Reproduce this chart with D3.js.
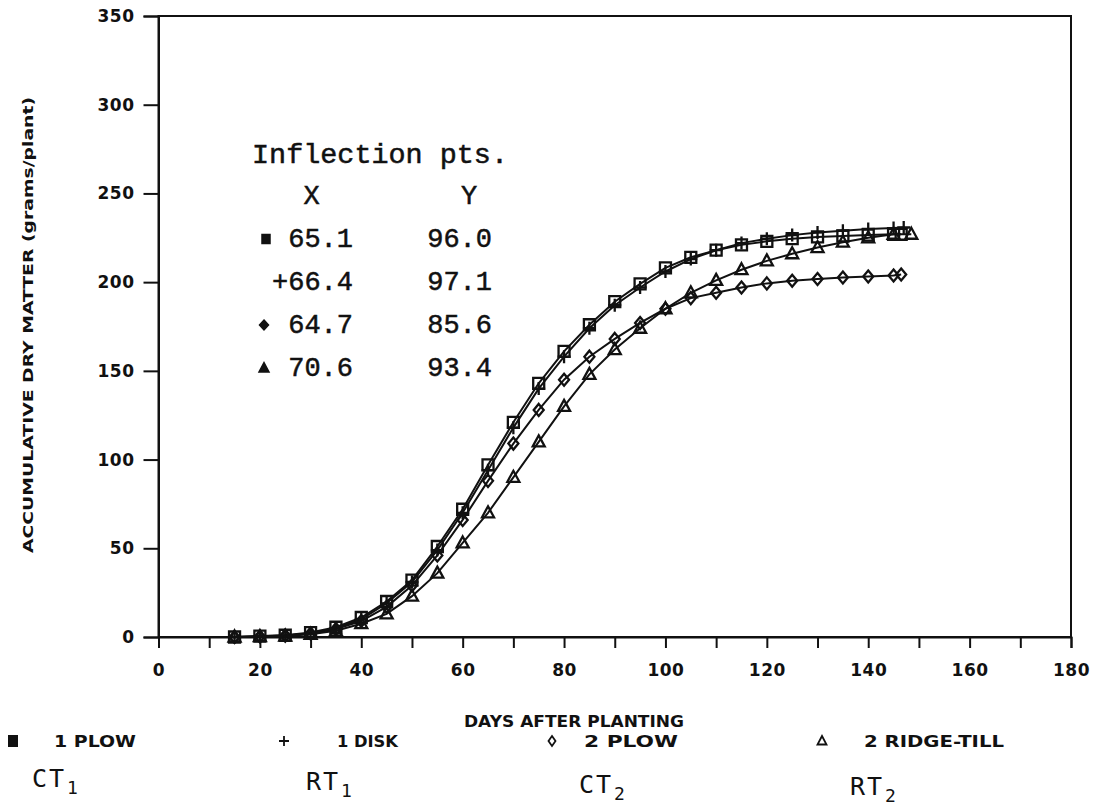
<!DOCTYPE html>
<html><head><meta charset="utf-8">
<script src="https://cdn.jsdelivr.net/npm/d3@7/dist/d3.min.js"></script>
<style>body{margin:0;background:#fff}</style>
</head><body>
<svg id="c" width="1096" height="807"></svg>
<script>
// ---------- data ----------
const days = [15,20,25,30,35,40,45,50,55,60,65,70,75,80,85,90,95,100,105,110,115,120,125,130,135,140,145];
const plow1  = [0,0.5,1,2.5,5.5,11,20,32,51,72,97,121,143,161,176,189,199,208,214,218,221,223,224.5,225.5,226,226.5,227];
const disk1  = [0,0.4,0.8,2,5,10,19,31,49,70,94,118,140,158,174,187,197,206,213,218,222,224.5,226.5,228,229,230,230.5];
const plow2  = [0,0.3,0.8,2,4.5,9,17,29,46,66,88,109,128,145,158,168,177,185,191,194,197,199.3,200.8,201.8,202.6,203.2,203.7];
const ridge2 = [0,0.2,0.5,1.5,3.5,7.5,13,23,36,53,70,90,110,130,148,162,174,185,194,201,207,212,216,219.5,222.5,225,227];
const endDays   = [146.5,147,146.5,148.5];
const endValues = [227,230.8,204.3,227];
const seriesNames = ["1 PLOW","1 DISK","2 PLOW","2 RIDGE-TILL"];
const treatments  = ["CT","RT","CT","RT"];
const treatmentSubs = ["1","1","2","2"];
const inflX = ["65.1","+66.4","64.7","70.6"];
const inflY = ["96.0","97.1","85.6","93.4"];
const xTicks = [0,10,20,30,40,50,60,70,80,90,100,110,120,130,140,150,160,170,180];
const yTicks = [0,50,100,150,200,250,300,350];
const xTitle = "DAYS AFTER PLANTING";
const yTitle = "ACCUMULATIVE DRY MATTER (grams/plant)";

// ---------- drawing ----------
const svg = d3.select("#c");
const ink = "#111";
const x = d3.scaleLinear().domain([0,180]).range([158.5,1071]);
const y = d3.scaleLinear().domain([0,350]).range([637,16]);

const numFont = "DejaVu Sans";
// frame
svg.append("rect").attr("x",x(0)).attr("y",y(350)).attr("width",x(180)-x(0)).attr("height",y(0)-y(350))
  .attr("fill","none").attr("stroke",ink).attr("stroke-width",2);

// x axis
const gx = svg.append("g").attr("transform",`translate(0,${y(0)})`)
  .call(d3.axisBottom(x).tickValues(xTicks).tickSize(11).tickPadding(16)
    .tickFormat(d => d % 20 === 0 ? String(d) : ""));
gx.select(".domain").attr("stroke",ink).attr("stroke-width",2);
gx.selectAll(".tick line").attr("stroke",ink).attr("stroke-width",2);
gx.selectAll(".tick text").attr("font-family",numFont).attr("font-weight","bold")
  .attr("font-size",17).attr("fill",ink).attr("letter-spacing","0.5px");

// y axis
const gy = svg.append("g").attr("transform",`translate(${x(0)},0)`)
  .call(d3.axisLeft(y).tickValues(yTicks).tickSize(15).tickPadding(9));
gy.select(".domain").attr("stroke",ink).attr("stroke-width",2);
gy.selectAll(".tick line").attr("stroke",ink).attr("stroke-width",2);
gy.selectAll(".tick text").attr("font-family",numFont).attr("font-weight","bold")
  .attr("font-size",17).attr("fill",ink).attr("letter-spacing","0.5px");

// titles
svg.append("text").attr("x",464).attr("y",727).attr("textLength",220).attr("lengthAdjust","spacingAndGlyphs")
  .attr("font-family",numFont).attr("font-weight","bold").attr("font-size",15).attr("fill",ink).text(xTitle);
svg.append("text").attr("transform","translate(33,325) rotate(-90)").attr("text-anchor","middle")
  .attr("textLength",456).attr("lengthAdjust","spacingAndGlyphs")
  .attr("font-family",numFont).attr("font-weight","bold").attr("font-size",13.5).attr("fill",ink).text(yTitle);

// marker shapes
const shapes = [
  "M-5.5,-5.5h11v11h-11z",
  "M-6.5,0H6.5M0,-6.5V6.5",
  "M0,-6L5,0L0,6L-5,0Z",
  "M0,-6.5L6,4.5L-6,4.5Z"
];
const allSeries = [plow1, disk1, plow2, ridge2];
const line = d3.line().x(d => x(d[0])).y(d => y(d[1]));
allSeries.forEach((vals, i) => {
  const pts = days.map((d, j) => [d, vals[j]]).concat([[endDays[i], endValues[i]]]);
  const g = svg.append("g");
  g.append("path").datum(pts).attr("d", line).attr("fill","none").attr("stroke",ink).attr("stroke-width",2);
  g.selectAll("path.m").data(pts).join("path").attr("class","m")
    .attr("transform", d => `translate(${x(d[0])},${y(d[1])})`)
    .attr("d", shapes[i]).attr("fill","none").attr("stroke",ink).attr("stroke-width",2.3);
});

// inflection table
const mono = "Liberation Mono";
const tbl = svg.append("g").attr("font-family",mono).attr("font-size",27).attr("fill",ink)
  .attr("stroke",ink).attr("stroke-width",0.5);
tbl.append("text").attr("x",252).attr("y",163).attr("textLength",256).attr("lengthAdjust","spacingAndGlyphs").text("Inflection pts.");
tbl.append("text").attr("x",311.5).attr("y",204).attr("text-anchor","middle").text("X");
tbl.append("text").attr("x",469).attr("y",204).attr("text-anchor","middle").text("Y");
const rowY = [247,290,333,376];
inflX.forEach((t,i) => {
  tbl.append("text").attr("x",353).attr("y",rowY[i]).attr("text-anchor","end").text(t);
  tbl.append("text").attr("x",492).attr("y",rowY[i]).attr("text-anchor","end").text(inflY[i]);
});
const tblSym = [
  {i:0, s:"M-4,-4.5h8v9h-8z"},
  {i:2, s:"M0,-5L4.5,0L0,5L-4.5,0Z"},
  {i:3, s:"M0,-5.5L5,4L-5,4Z"}
];
tblSym.forEach(o => {
  tbl.append("path").attr("transform",`translate(${o.i===0?266:264},${rowY[o.i]-8})`)
    .attr("d",o.s).attr("fill",ink).attr("stroke",ink).attr("stroke-width",1.5);
});

// legend
const legX = [13,284,552,822];
const legTextX = [[54,136],[337,398],[584,678],[864,1004]];
const legShapes = ["M-4,-5h8v10h-8z","M-5,0H5M0,-5V5","M0,-5L3.5,0L0,5L-3.5,0Z","M0,-5L4.5,3.5L-4.5,3.5Z"];
const legG = svg.append("g");
seriesNames.forEach((n,i) => {
  legG.append("path").attr("transform",`translate(${legX[i]},741)`).attr("d",legShapes[i])
    .attr("fill",i===0?ink:"none").attr("stroke",ink).attr("stroke-width",i===0?2:1.8);
  legG.append("text").attr("x",legTextX[i][0]).attr("y",747)
    .attr("textLength",legTextX[i][1]-legTextX[i][0]).attr("lengthAdjust","spacingAndGlyphs")
    .attr("font-family",numFont).attr("font-weight","bold").attr("font-size",16).attr("fill",ink).text(n);
});

// treatment codes
const codeX = [32,306,579,850];
const codeY = [787,790,793,795];
treatments.forEach((t,i) => {
  const tx = svg.append("text").attr("x",codeX[i]).attr("y",codeY[i])
    .attr("font-family","DejaVu Sans Mono").attr("font-size",25).attr("fill",ink).attr("letter-spacing","2px");
  tx.append("tspan").text(t);
  tx.append("tspan").attr("dy",7).attr("font-size",18).attr("dx",1).text(treatmentSubs[i]);
});
</script>
</body></html>
